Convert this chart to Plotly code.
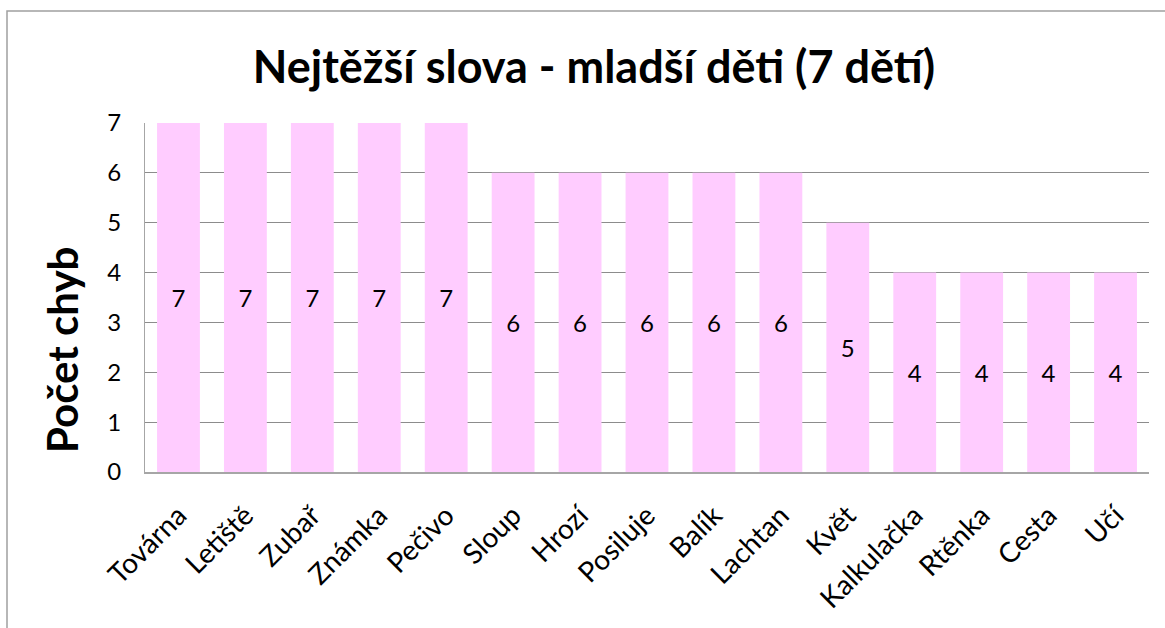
import plotly.graph_objects as go

categories = ["Továrna", "Letiště", "Zubař", "Známka", "Pečivo", "Sloup", "Hrozí",
              "Posiluje", "Balík", "Lachtan", "Květ", "Kalkulačka", "Rtěnka", "Cesta", "Učí"]
values = [7, 7, 7, 7, 7, 6, 6, 6, 6, 6, 5, 4, 4, 4, 4]
y_ticks = [0, 1, 2, 3, 4, 5, 6, 7]

title_text = "Nejtěžší slova - mladší děti (7 dětí)"
y_title = "Počet chyb"

W, H = 1165, 628
L, R, T, B = 145, 16, 123, 156
pw, ph = W - L - R, H - T - B

FONT = "Lato, Carlito, Calibri, sans-serif"

fig = go.Figure(go.Bar(
    x=categories, y=values,
    marker=dict(color="#FFCCFF", line=dict(width=0)),
    text=[str(v) for v in values],
    textposition="inside", insidetextanchor="middle",
    textfont=dict(family=FONT, size=24, color="#000000"),
    textangle=0,
    hoverinfo="x+y",
))

def px_x(p):
    return (p - L) / pw

def px_y(p):
    return 1 - (p - T) / ph

fig.update_layout(
    width=W, height=H,
    margin=dict(l=L, r=R, t=T, b=B),
    paper_bgcolor="white", plot_bgcolor="white",
    bargap=0.36,
    showlegend=False,
    uniformtext=dict(mode=False),
    title=dict(text="<b>" + title_text + "</b>", x=594 / W, xanchor="center",
               y=1 - 67 / H, yanchor="middle",
               font=dict(family=FONT, size=45, color="#000000")),
    xaxis=dict(
        type="category", showgrid=False, showline=True, linecolor="#A6A6A6", linewidth=2,
        tickangle=-45, ticks="", ticklabelstandoff=14,
        tickfont=dict(family=FONT, size=28, color="#000000"),
        fixedrange=True,
    ),
    yaxis=dict(
        range=[0, 7], tickvals=y_ticks, showgrid=True, gridcolor="#8C8C8C", gridwidth=1,
        showline=True, linecolor="#A6A6A6", linewidth=1, zeroline=False,
        ticks="", ticklabelstandoff=18,
        tickfont=dict(family=FONT, size=24, color="#000000"),
        fixedrange=True,
    ),
    annotations=[dict(text="<b>" + y_title + "</b>", xref="paper", yref="paper",
                      x=px_x(62), y=px_y(350), xanchor="center", yanchor="middle",
                      textangle=-90, showarrow=False,
                      font=dict(family=FONT, size=42, color="#000000"))],
    shapes=[dict(type="rect", xref="paper", yref="paper",
                 x0=px_x(7), x1=px_x(1175), y0=px_y(640), y1=px_y(11),
                 line=dict(color="#A0A0A0", width=1.5), fillcolor="rgba(0,0,0,0)", layer="below")],
)

fig.write_html("out.html", config={"displayModeBar": False},
               post_script="document.body.style.margin='0';")
